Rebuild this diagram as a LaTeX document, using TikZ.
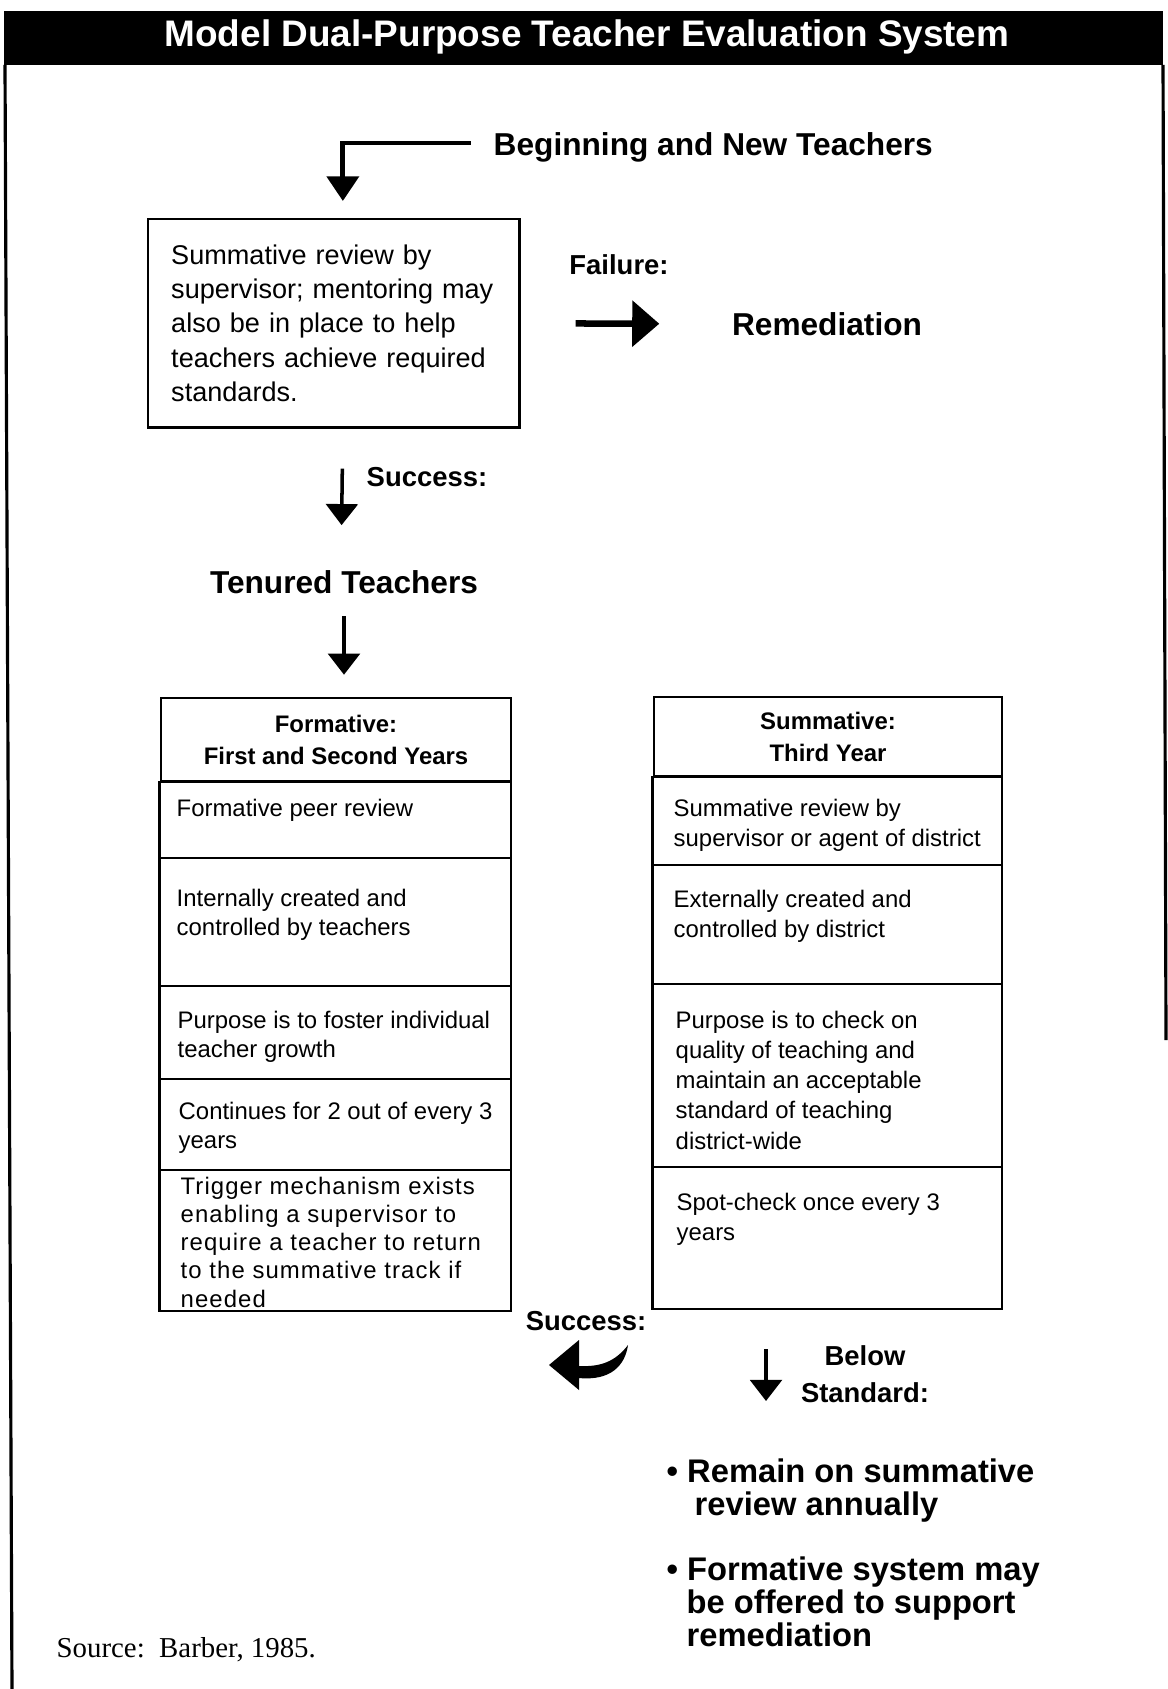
\documentclass[tikz,border=0pt]{standalone}
\usepackage{fontspec}
\setmainfont{Liberation Sans}
\newfontfamily\srcfont{Liberation Serif}
\usepackage{tikz}
\usetikzlibrary{arrows.meta}
\newcommand\fsz[2]{\fontsize{#1}{#2}\selectfont}

\begin{document}
\begin{tikzpicture}[x=0.01cm,y=-0.01cm,
  thinarr/.style={line width=1pt,-{Triangle[length=6pt,width=9pt]}},
  bentarr/.style={line width=1.4pt,-{Triangle[length=7pt,width=9pt]}},
  fatarr/.style={line width=1.85pt,-{Triangle[length=7.7pt,width=12.8pt]}},
  lbl/.style={inner sep=0pt,font=\bfseries\fsz{7.8}{10.5}},
  big/.style={inner sep=0pt,font=\bfseries\fsz{9}{11}},
  hdr/.style={draw,line width=0.7pt,align=center,inner sep=0pt,font=\bfseries\fsz{6.8}{9.1}},
  rowtext/.style={anchor=north west,inner sep=0pt,align=left,font=\fsz{6.8}{8.5}}]
\useasboundingbox (0,0) rectangle (1167,1689);
\fill (4,11) rectangle (1163,65);
\draw[line width=0.9pt] (5,65) -- (12,1689);
\draw[line width=0.9pt] (1163,65) -- (1166,1040);
\node[text=white,inner sep=0pt,font=\bfseries\fsz{10.5}{12}] (title) at (587,37) {Model Dual-Purpose Teacher Evaluation System};

\node[big,anchor=west] (begin) at (493,147) {Beginning and New Teachers};
\node[draw,line width=0.7pt,anchor=north west,minimum height=2.08cm,text width=3.33cm,inner xsep=0.19cm,inner ysep=0pt,align=left,font=\fsz{7.7}{9.8}] (review) at (147,218) {\hspace*{0.04cm}Summative review by\\\hspace*{0.04cm}supervisor; mentoring may\\\hspace*{0.04cm}also be in place to help\\\hspace*{0.04cm}teachers achieve required\\\hspace*{0.04cm}standards.};
\node[lbl] (fail) at (619,265) {Failure:};
\node[big] (remed) at (827,324) {Remediation};
\node[lbl,anchor=west] (succ) at (366,477) {Success:};
\node[big] (tenured) at (344,582) {Tenured Teachers};

\draw[bentarr,shorten >=0.17cm] ([xshift=-0.22cm,yshift=0.04cm]begin.west) -| ([xshift=0.09cm]review.north);
\draw[fatarr,shorten <=0.55cm,shorten >=0.72cm] (review.east) -- (remed.west);
\draw[thinarr,shorten <=0.4cm,shorten >=0.445cm] ([xshift=0.09cm]review.south) -- ([xshift=-0.03cm]tenured.north);

\node[hdr,minimum width=3.5cm,minimum height=0.83cm] (formhead) at (336,739.5) {Formative:\\First and Second Years};
\draw[thinarr,shorten <=0.22cm,shorten >=0.22cm] (tenured.south) -- (tenured.south |- formhead.north);
\draw[line width=0.7pt] (formhead.south west) rectangle (511,1311);
\foreach \y in {858,986,1079,1170} \draw[line width=0.7pt] (161,\y) -- (511,\y);
\node[rowtext] (f1) at (176,798) {Formative peer review};
\node[rowtext] (f2) at (176,888) {Internally created and\\controlled by teachers};
\node[rowtext] (f3) at (177,1010) {Purpose is to foster individual\\teacher growth};
\node[rowtext] (f4) at (178,1101) {Continues for 2 out of every 3\\years};
\node[rowtext,font=\fsz{6.8}{8.05}\addfontfeatures{LetterSpace=4.5}] (f5) at (180,1176) {Trigger mechanism exists\\enabling a supervisor to\\require a teacher to return\\to the summative track if\\needed};

\node[hdr,minimum width=3.48cm,minimum height=0.79cm] (sumhead) at (828,736.5) {Summative:\\Third Year};
\draw[line width=0.7pt] (sumhead.south west) rectangle (1002,1309);
\foreach \y in {865,984,1167} \draw[line width=0.7pt] (654,\y) -- (1002,\y);
\node[rowtext,font=\fsz{6.8}{8.6}] (s1) at (673,798) {Summative review by\\supervisor or agent of district};
\node[rowtext,font=\fsz{6.8}{8.6}] (s2) at (673,889) {Externally created and\\controlled by district};
\node[rowtext,font=\fsz{6.8}{8.6}] (s3) at (675,1010) {Purpose is to check on\\quality of teaching and\\maintain an acceptable\\standard of teaching\\district-wide};
\node[rowtext,font=\fsz{6.8}{8.6}] (s4) at (676,1192) {Spot-check once every 3\\years};

\node[lbl] (succ2) at (586,1321) {Success:};
\fill (549,1365) -- (579,1340) -- (579,1366) .. controls (600,1367) and (615,1362) .. (628,1345) .. controls (625,1366) and (610,1381) .. (579,1378) -- (579,1390) -- cycle;
\coordinate (bsfrom) at (766,1349);
\coordinate (bsto) at (766,1401);
\draw[thinarr] (bsfrom) -- (bsto);
\node[lbl,align=center] (below) at (865,1374) {Below\\Standard:};
\node[anchor=north west,inner sep=0pt,align=left,font=\bfseries\fsz{9.3}{9.4}] (bullets) at (666,1458) {\textbullet\ Remain on summative\\\hspace*{0.28cm}review annually\\[0.32cm]\textbullet\ Formative system may\\\hspace*{0.2cm}be offered to support\\\hspace*{0.2cm}remediation};

\node[anchor=west,inner sep=0pt,font=\srcfont\fsz{8.2}{10}] (src) at (56,1650) {Source:\ \ Barber, 1985.};
\end{tikzpicture}
\end{document}
